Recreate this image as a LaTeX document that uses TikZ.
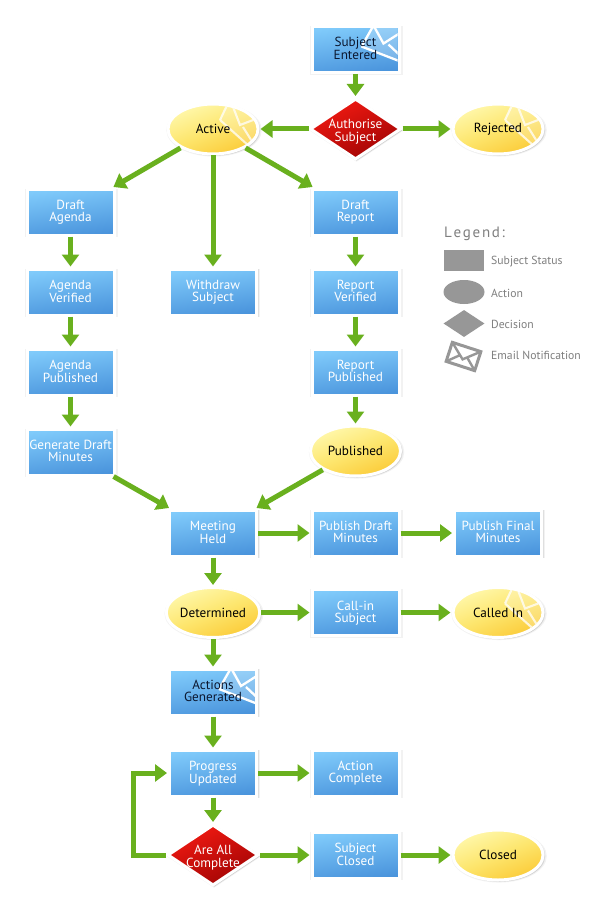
\documentclass[tikz,border=0pt]{standalone}
\usepackage{fontspec}
\setmainfont{PT Sans}
\usetikzlibrary{shapes.geometric,arrows.meta,shadows}
\definecolor{arrowgreen}{HTML}{69B01E}
\definecolor{bluetop}{HTML}{80CBFB}
\definecolor{bluebot}{HTML}{4A94DC}
\definecolor{yeltop}{HTML}{FFF8AC}
\definecolor{yelmid}{HTML}{FDE66E}
\definecolor{yelbot}{HTML}{FBCB38}
\definecolor{redtop}{HTML}{F21A12}
\definecolor{redbot}{HTML}{A00404}
\definecolor{leggray}{HTML}{979797}
\definecolor{legtext}{HTML}{7F7F7F}
\definecolor{darktext}{HTML}{0C1830}
\newcommand{\dtext}[2]{\smash{\makebox[0pt]{\raisebox{-.45em}{\begin{tabular}[c]{@{}c@{}}#1\\#2\end{tabular}}}}}
\newcommand{\envboxat}[1]{\begin{scope}[shift={(#1)}]
  \clip (-42,-21.5) rectangle (42,21.5);
  \path[envfill] (6,3)--(18,24)--(60,24)--(60,-17)--cycle;
  \draw[envedge] (6,3)--(18,24) (18,24)--(28,6)--(50,20) (6,3)--(50,-14) (33,5)--(50,-11);
\end{scope}}
\newcommand{\envellat}[1]{\begin{scope}[shift={(#1)}]
  \clip (0,0) ellipse (43.5 and 23.5);
  \path[envfill] (7,9)--(17,30)--(48,12)--(37,-18)--cycle;
  \draw[envedge,draw opacity=.75,line width=2.1pt] (7,9)--(17,30)--(27,4)--(48,12) (7,9)--(37,-18) (30,2)--(40,-14);
\end{scope}}
\tikzset{
  softshadow/.style={
    drop shadow={shadow xshift=1pt,shadow yshift=-1pt,shadow scale=1.06,fill=black,opacity=.05},
    drop shadow={shadow xshift=1pt,shadow yshift=-1pt,shadow scale=1.03,fill=black,opacity=.08},
    drop shadow={shadow xshift=1.5pt,shadow yshift=-1.5pt,shadow scale=1.0,fill=black,opacity=.08}},
  base/.style={softshadow,draw=white,line width=3pt,inner sep=0pt,align=center,
    font=\fontsize{13.2}{12}\selectfont},
  bluebox/.style={base,rectangle,minimum width=87pt,minimum height=46pt,text=white,text depth=2pt,
    top color=bluetop,bottom color=bluebot,shading angle=8},
  yell/.style={base,ellipse,minimum width=90pt,minimum height=50pt,text=black,
    top color=yeltop,bottom color=yelbot,middle color=yelmid,shading angle=22},
  rdia/.style={base,diamond,minimum width=91pt,minimum height=61pt,text=white,
    top color=redtop,bottom color=redbot,shading angle=25},
  envedge/.style={draw=white,line width=2.3pt,line join=miter},
  envfill/.style={fill=white,fill opacity=.22,draw=none},
  boxlabel/.style={inner sep=0pt,align=center,font=\fontsize{13.2}{12}\selectfont,text=darktext,text depth=2pt},
  elllabel/.style={inner sep=0pt,align=center,font=\fontsize{13.2}{12}\selectfont,text=black},
  conn/.style={draw=arrowgreen,line width=5pt,-{Triangle[length=12pt,width=17pt]},
    shorten >=1pt,shorten <=0pt},
  lgshape/.style={fill=leggray,draw=none,inner sep=0pt},
  lgtext/.style={text=legtext,anchor=west,inner sep=0pt,font=\fontsize{11.7}{12}\selectfont},
}
\begin{document}
\begin{tikzpicture}[x=1pt,y=1pt]
\fill[white] (0,0) rectangle (592,-920);
\useasboundingbox (0,0) rectangle (592,-920);
% top
\node[bluebox] (entered) at (355.5,-49.5) {};
\envboxat{entered}
\node[boxlabel] (enteredtext) at (entered) {Subject\\Entered};
\node[rdia] (authorise) at (355.5,-129) {\dtext{Authorise}{Subject}};
\node[yell] (active) at (213,-129) {};
\envellat{active}
\node[elllabel] (activetext) at (active) {Active};
\node[yell] (rejected) at (498,-129) {};
\envellat{rejected}
\node[elllabel] (rejectedtext) at (rejected) {Rejected};
% left column
\node[bluebox] (dagenda) at (70.5,-212) {Draft\\Agenda};
\node[bluebox] (vagenda) at (70.5,-292) {Agenda\\Verified};
\node[bluebox] (pagenda) at (70.5,-372) {Agenda\\Published};
\node[bluebox] (gendraft) at (70.5,-452) {Generate Draft\\Minutes};
% middle
\node[bluebox] (withdraw) at (213,-292) {Withdraw\\Subject};
\node[bluebox] (meeting) at (213,-533) {Meeting\\Held};
\node[yell] (determined) at (213,-612.5) {Determined};
\node[bluebox] (actions) at (213,-692) {};
\envboxat{actions}
\node[boxlabel] (actionstext) at (actions) {Actions\\Generated};
\node[bluebox] (progress) at (213,-773) {Progress\\Updated};
\node[rdia] (allc) at (213,-855) {\dtext{Are All}{Complete}};
% right
\node[bluebox] (dreport) at (355.5,-212) {Draft\\Report};
\node[bluebox] (vreport) at (355.5,-292) {Report\\Verified};
\node[bluebox] (preport) at (355.5,-372) {Report\\Published};
\node[yell] (published) at (355.5,-451) {Published};
\node[bluebox] (pdraft) at (355.5,-533) {Publish Draft\\Minutes};
\node[bluebox] (callin) at (355.5,-612.5) {Call-in\\Subject};
\node[bluebox] (acomplete) at (355.5,-773) {Action\\Complete};
\node[bluebox] (sclosed) at (355.5,-855) {Subject\\Closed};
% far right
\node[bluebox] (pfinal) at (498,-533) {Publish Final\\Minutes};
\node[yell] (calledin) at (498,-612.5) {};
\envellat{calledin}
\node[elllabel] (calledintext) at (calledin) {Called In};
\node[yell] (closed) at (498,-855) {Closed};
\coordinate (loopa) at (133,-773);
% connectors
\foreach \a/\b in {entered/authorise,authorise/active,authorise/rejected,active/dagenda,active/withdraw,active/dreport,
  dagenda/vagenda,vagenda/pagenda,pagenda/gendraft,dreport/vreport,vreport/preport,preport/published,
  gendraft/meeting,published/meeting,meeting/pdraft,pdraft/pfinal,meeting/determined,determined/callin,callin/calledin,
  determined/actions,actions/progress,progress/acomplete,progress/allc,allc/sclosed,sclosed/closed}
  \draw[conn] (\a) -- (\b);
\draw[conn,line join=miter] (allc.west) -| (loopa) -- (progress.west);
% legend
\node[anchor=west,inner sep=0pt,text=legtext,font=\fontsize{15}{16}\selectfont] (legtitle) at (444,-233.5) {L\kern1.7pt e\kern1.7pt g\kern1.7pt e\kern1.7pt n\kern1.7pt d\kern1.7pt :};
\node[lgshape,rectangle,minimum width=40pt,minimum height=21pt] (lgbox) at (463.5,-260.5) {};
\node[lgshape,ellipse,minimum width=41pt,minimum height=24pt] (lgell) at (464,-292) {};
\node[lgshape,diamond,minimum width=41pt,minimum height=27pt] (lgdia) at (464,-323.5) {};
\begin{scope}[shift={(463.5,-356.5)},rotate=-18]
  \draw[draw=leggray,line width=3pt,line join=miter] (-15,-10) rectangle (15,10);
  \draw[draw=leggray,line width=2.4pt] (-15,10)--(0,-3)--(15,10) (-15,-10)--(-4,0) (15,-10)--(4,0);
\end{scope}
\node[lgtext] (t1) at (491,-262) {Subject Status};
\node[lgtext] (t2) at (491,-293.5) {Action};
\node[lgtext] (t3) at (491,-324.5) {Decision};
\node[lgtext] (t4) at (491,-355.5) {Email Notification};
\end{tikzpicture}
\end{document}
